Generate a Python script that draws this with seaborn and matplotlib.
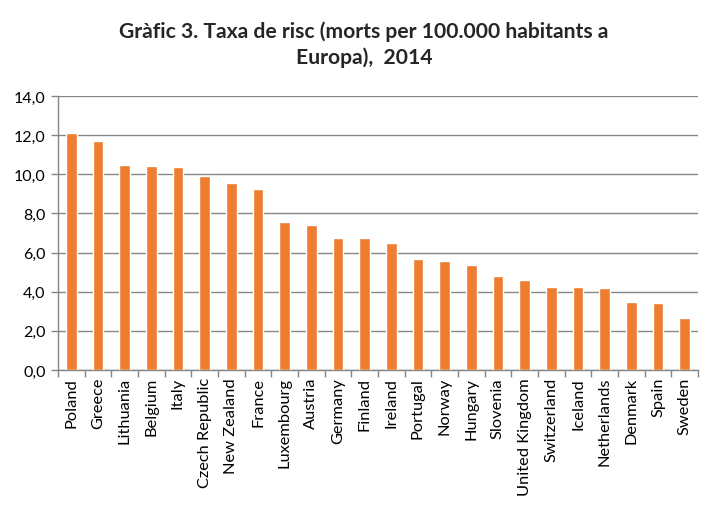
import matplotlib
matplotlib.use("Agg")
import matplotlib.pyplot as plt
import seaborn as sns
import pandas as pd
import numpy as np
from matplotlib.ticker import FuncFormatter, MultipleLocator, FixedLocator

countries = ["Poland", "Greece", "Lithuania", "Belgium", "Italy", "Czech Republic",
             "New Zealand", "France", "Luxembourg", "Austria", "Germany", "Finland",
             "Ireland", "Portugal", "Norway", "Hungary", "Slovenia", "United Kingdom",
             "Switzerland", "Iceland", "Netherlands", "Denmark", "Spain", "Sweden"]
values = [12.13, 11.72, 10.50, 10.40, 10.35, 9.89,
          9.53, 9.23, 7.54, 7.39, 6.73, 6.73,
          6.47, 5.66, 5.56, 5.35, 4.79, 4.59,
          4.23, 4.23, 4.18, 3.47, 3.41, 2.65]
title = "Gràfic 3. Taxa de risc (morts per 100.000 habitants a\nEuropa),  2014"

sns.set_theme(style="white")
plt.rcParams['font.family'] = ['Lato', 'DejaVu Sans']

df = pd.DataFrame({"country": countries, "value": values})

fig = plt.figure(figsize=(7.2, 5.06), dpi=100)
ax = fig.add_axes([58/720, 1-371/506, 640/720, 274/506])
grid_c = "#868686"
sns.barplot(data=df, x="country", y="value", color="#ED7D31", width=0.4,
            saturation=1, ax=ax, zorder=3)

ax.set_ylim(0, 14)
ax.set_xlim(-0.5, len(countries)-0.5)
ax.yaxis.set_major_locator(MultipleLocator(2))
ax.yaxis.set_major_formatter(FuncFormatter(lambda v, p: f"{v:.1f}".replace(".", ",")))
ax.grid(axis="y", color=grid_c, linewidth=1, zorder=0)
ax.set_axisbelow(True)
for s in ["top", "right"]:
    ax.spines[s].set_visible(False)
for s in ["left", "bottom"]:
    ax.spines[s].set_color(grid_c)
    ax.spines[s].set_linewidth(1)
ax.set_xlabel("")
ax.set_ylabel("")
ax.tick_params(axis="x", which="major", length=0, labelsize=11.8, rotation=90, pad=5,
               labelcolor="black")
ax.xaxis.set_minor_locator(FixedLocator(np.arange(-0.5, len(countries), 1)))
ax.tick_params(axis="x", which="minor", bottom=True, length=5, color=grid_c, width=1)
ax.tick_params(axis="y", which="major", left=True, length=5, color=grid_c, width=1,
               labelsize=11.5, labelcolor="black", pad=4)

fig.text(364/720, 1-45/506, title, ha="center", va="center", fontsize=15.2,
         fontweight="bold", linespacing=1.35)

fig.savefig("out.png", dpi=100)
